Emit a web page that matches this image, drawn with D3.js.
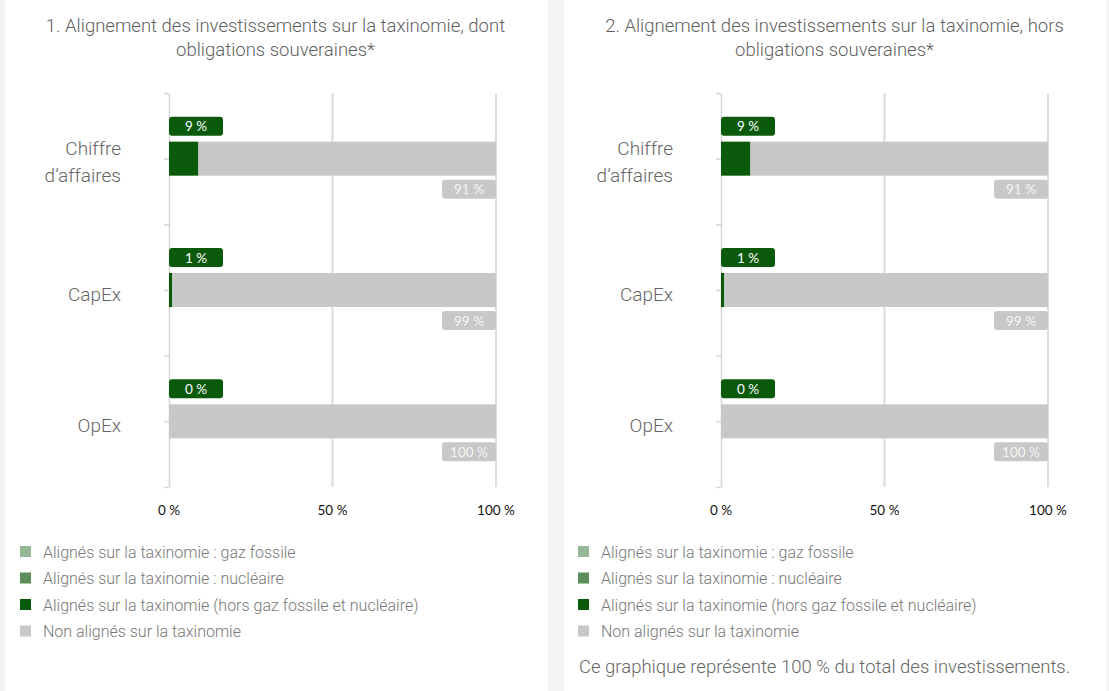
<!DOCTYPE html>
<html lang="fr">
<head>
<meta charset="utf-8">
<title>Alignement des investissements sur la taxinomie</title>
<style>
body { margin:0; background:#f3f3f3; }
svg text { font-family:"Roboto","Open Sans",sans-serif; }
.num { font-family:"Lato","Open Sans",sans-serif; }
</style>
<script src="https://cdn.jsdelivr.net/npm/d3@7/dist/d3.min.js"></script>
</head>
<body>
<script>
// data
var categories = ["Chiffre d\u2019affaires", "CapEx", "OpEx"];
var gazFossile = [0, 0, 0];
var nucleaire = [0, 0, 0];
var alignes1 = [9, 1, 0];
var nonAlignes1 = [91, 99, 100];
var alignes2 = [9, 1, 0];
var nonAlignes2 = [91, 99, 100];
var xTicks = [0, 50, 100];
var titles = [
    ["1. Alignement des investissements sur la taxinomie, dont", "obligations souveraines*"],
    ["2. Alignement des investissements sur la taxinomie, hors", "obligations souveraines*"]
];
var legendLabels = [
    "Align\u00e9s sur la taxinomie : gaz fossile",
    "Align\u00e9s sur la taxinomie : nucl\u00e9aire",
    "Align\u00e9s sur la taxinomie (hors gaz fossile et nucl\u00e9aire)",
    "Non align\u00e9s sur la taxinomie"
];
var legendColors = ["#97b897", "#5b8e5b", "#0b5a0b", "#c8c8c8"];
var footnote = "Ce graphique repr\u00e9sente 100 % du total des investissements.";

var width = 1109, height = 691;
var svg = d3.select("body").append("svg")
    .attr("width", width)
    .attr("height", height)
    .style("display", "block");

svg.append("rect").attr("width", width).attr("height", height).attr("fill", "#f3f3f3");

var panels = [
    { x: 5, w: 543, chartX: 169, legX: 20, aligned: alignes1, other: nonAlignes1, title: titles[0], note: false },
    { x: 564, w: 543, chartX: 721, legX: 578, aligned: alignes2, other: nonAlignes2, title: titles[1], note: true }
];

panels.forEach(function(p) {
    svg.append("rect")
        .attr("x", p.x).attr("y", 0)
        .attr("width", p.w).attr("height", height)
        .attr("fill", "#ffffff");

    // title
    var cx = p.x + p.w / 2 - 1;
    svg.append("text")
        .attr("x", cx).attr("y", 32)
        .attr("text-anchor", "middle")
        .style("font-size", "18.5px").style("font-weight", 300)
        .attr("fill", "#5f5f5f")
        .selectAll("tspan").data(p.title).enter().append("tspan")
            .attr("x", cx)
            .attr("dy", function(d, i) { return i === 0 ? 0 : 24; })
            .text(function(d) { return d; });

    var g = svg.append("g").attr("transform", "translate(" + p.chartX + ",0)");

    var x = d3.scaleLinear().domain([0, 100]).range([0, 327]);
    var y = d3.scaleBand().domain(categories).range([93, 487]);
    var yTick = d3.scaleLinear().domain([0, 3]).range([93, 487]);

    // gridlines
    g.selectAll(".grid").data(xTicks.filter(function(d) { return d > 0; }))
        .enter().append("line")
            .attr("x1", function(d) { return x(d); })
            .attr("x2", function(d) { return x(d); })
            .attr("y1", 93).attr("y2", 487)
            .attr("stroke", "#dcdcdc").attr("stroke-width", 2);

    // y axis with ticks at band edges and centres
    var yAxis = g.append("g")
        .call(d3.axisLeft(yTick).tickValues(d3.range(0, 3.01, 0.5)).tickSize(5).tickSizeOuter(0).tickFormat(""));
    yAxis.selectAll("path, line").attr("stroke", "#d6d6d6").attr("stroke-width", 1.5);

    // x tick labels
    g.selectAll(".xl").data(xTicks).enter().append("text")
        .attr("class", "num")
        .attr("x", function(d) { return x(d); })
        .attr("y", 515)
        .attr("text-anchor", "middle")
        .style("font-size", "13.5px")
        .attr("fill", "#111")
        .text(function(d) { return d + " %"; });

    // category labels
    categories.forEach(function(c, i) {
        var yc = y(c) + y.bandwidth() / 2;
        var lines = c === categories[0] ? ["Chiffre", "d\u2019affaires"] : [c];
        var t = g.append("text")
            .attr("text-anchor", "end")
            .style("font-size", "19px").style("font-weight", 300)
            .attr("fill", "#666");
        lines.forEach(function(l, j) {
            t.append("tspan")
                .attr("x", -48)
                .attr("y", yc + (lines.length === 2 ? (j === 0 ? -4 : 23) : 11))
                .text(l);
        });
    });

    // stacked bars
    var rows = categories.map(function(c, i) {
        return { cat: c, gaz: gazFossile[i], nuc: nucleaire[i], al: p.aligned[i], non: p.other[i] };
    });
    var stack = d3.stack().keys(["gaz", "nuc", "al", "non"])(rows);
    var colorOf = { gaz: legendColors[0], nuc: legendColors[1], al: legendColors[2], non: legendColors[3] };

    stack.forEach(function(layer) {
        g.selectAll(".bar-" + layer.key).data(layer).enter().append("rect")
            .attr("x", function(d) { return x(d[0]); })
            .attr("width", function(d) { return x(d[1]) - x(d[0]); })
            .attr("y", function(d) { return y(d.data.cat) + y.bandwidth() / 2 - 17; })
            .attr("height", 34)
            .attr("fill", colorOf[layer.key]);
    });

    // data labels
    rows.forEach(function(r) {
        var yc = y(r.cat) + y.bandwidth() / 2;
        g.append("rect")
            .attr("x", x(0)).attr("y", yc - 42)
            .attr("width", 54).attr("height", 19).attr("rx", 3)
            .attr("fill", legendColors[2]);
        g.append("text").attr("class", "num")
            .attr("x", x(0) + 27).attr("y", yc - 27.5)
            .attr("text-anchor", "middle")
            .style("font-size", "13.5px").attr("fill", "#fff")
            .text(r.al + " %");
        g.append("rect")
            .attr("x", x(100) - 54).attr("y", yc + 21)
            .attr("width", 54).attr("height", 19).attr("rx", 3)
            .attr("fill", legendColors[3]);
        g.append("text").attr("class", "num")
            .attr("x", x(100) - 27).attr("y", yc + 35.5)
            .attr("text-anchor", "middle")
            .style("font-size", "13.5px").attr("fill", "#f4f4f4")
            .text(r.non + " %");
    });

    // legend
    var leg = svg.append("g").attr("transform", "translate(" + p.legX + ",0)");
    legendLabels.forEach(function(l, i) {
        var ly = 552 + i * 26.5;
        leg.append("rect").attr("x", 0).attr("y", ly - 6)
            .attr("width", 11).attr("height", 11)
            .attr("fill", legendColors[i]);
        leg.append("text").attr("x", 23).attr("y", ly + 5.5)
            .style("font-size", "16px").style("font-weight", 300)
            .attr("fill", "#777")
            .text(l);
    });
    if (p.note) {
        leg.append("text").attr("x", 1).attr("y", 673)
            .style("font-size", "18.5px").style("font-weight", 300)
            .attr("fill", "#666")
            .text(footnote);
    }
});
</script>
</body>
</html>
